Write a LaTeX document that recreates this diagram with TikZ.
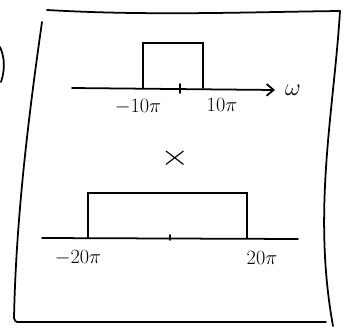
\documentclass[tikz,border=0pt]{standalone}
\usepackage{tikz}
\usetikzlibrary{arrows.meta,calc}

\begin{document}
\begin{tikzpicture}[x=0.3mm, y=-0.3mm, line width=1.5pt, line cap=round,
        every node/.style={font=\fontsize{17}{20}\selectfont, inner sep=1pt}]
            \useasboundingbox (0,0) rectangle (352,328);

            % Sheet outline (hand drawn)
            \draw (47,10) .. controls (150,16) and (250,12) .. (340,11);
            \draw (340,11) .. controls (334,110) and (312,210) .. (333,326);
            \draw (42,22) .. controls (28,120) and (16,220) .. (14,318);
            \draw (14,318) .. controls (15,323) and (18,322) .. (22,322) -- (326,322);
            \draw (0,47) .. controls (5,58) and (5,70) .. (1,82);

            % Upper spectrum
            \coordinate (uStart) at (72,88);
            \coordinate (uEnd) at (275,90);
            \draw[-{Straight Barb[length=6pt,width=10pt]}] (uStart) -- (uEnd);
            \node[font=\fontsize{22}{24}\selectfont] (omega) at (293,90) {$\omega$};
            \draw (143,88) |- (203,43) -- (203,88);
            \draw (180,84) -- (180,93);
            \node (uLeft) at (138,107) {$-10\pi$};
            \node (uRight) at (222,105) {$10\pi$};

            % Product sign
            \node[font=\fontsize{30}{30}\selectfont, xscale=1.3] (times) at (175,158) {$\times$};

            % Lower spectrum
            \coordinate (lStart) at (42,238);
            \coordinate (lEnd) at (298,239);
            \draw (lStart) -- (lEnd);
            \draw (88,238) |- (247,193) -- (247,238);
            \draw (170,235) -- (170,240);
            \node (lLeft) at (78,258) {$-20\pi$};
            \node (lRight) at (262,258) {$20\pi$};
        \end{tikzpicture}
\end{document}
